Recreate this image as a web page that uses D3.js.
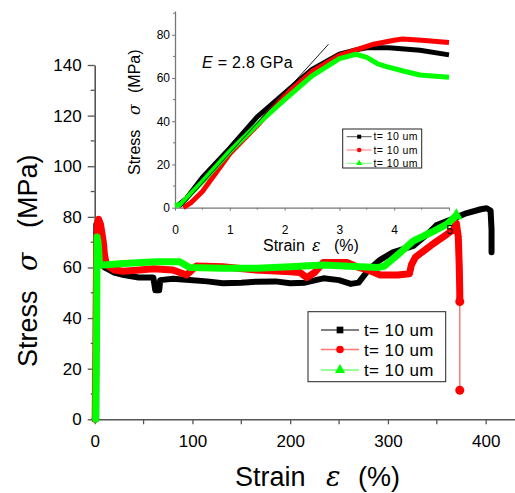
<!DOCTYPE html>
<html>
<head>
<meta charset="utf-8">
<script src="https://cdn.jsdelivr.net/npm/d3@7"></script>
<style>
body { margin: 0; background: #fff; }
svg text { font-family: "Liberation Sans", Arial, sans-serif; fill: #000; }
</style>
</head>
<body>
<div id="chart"></div>
<script>
// main test: stress (MPa) vs strain (%)
var blackMain = [[0,0],[1.5,0],[1.6,77],[2.5,76],[4,70],[6,62],[10,60],[20,58],[30,57],[45,56],[60,56],[62,51],[66,51],[67,55],[80,55.5],[97,55],[115,54.5],[131,53.8],[150,54],[165,54.4],[185,54.5],[200,53.8],[215,54],[234,55.7],[250,55],[262,53.5],[270,54],[280,59],[292,63],[305,66],[326,68.5],[340,73],[350,76.8],[365,79],[380,81.4],[395,83],[401,83.4],[405,82.5],[406,75],[406,66]];
var redMain = [[0.5,0],[1,20],[2,70],[3,78],[4,79],[6,77],[8.8,70],[10,65],[12,61],[20,59],[29,58.5],[46,59],[60,59.5],[80,59],[94,57],[104,60.6],[131,60.3],[165,59],[200,58.3],[210,58],[217,56],[225,58],[234,62],[258,62],[270,60],[280,59],[292,57],[310,57],[322,57.5],[324,61],[328,64],[345,69],[360,73],[367,75],[370,77.5],[372,72],[373,60],[373.5,50],[373.5,46.5]];
var redTail = [[373.5,46.5],[373.5,11.5]];
var greenMain = [[1,0],[2,40],[2.5,72],[3.5,70],[5,61],[9,61],[29,61.6],[63,62.3],[87,62.3],[97,60],[131,59.7],[166,59.7],[200,60.3],[234,61],[260,60.5],[290,60],[296,60.5],[310,65],[326,70.5],[345,74],[360,77],[370,80.5]];

// inset: first 5 % of strain
var blackInset = [[0.05,1],[0.2,4],[0.5,14],[1,27.5],[1.5,42],[2,53],[2.5,64],[3,71],[3.3,73],[3.5,74],[3.9,74],[4.47,72.8],[5,70.7]];
var redInset = [[0.15,0],[0.3,2.5],[0.5,7.5],[1,25],[1.5,38],[2,52],[2.5,63],[3,70.5],[3.3,73],[3.6,75.5],[4,77.5],[4.15,78],[4.5,77.5],[5,76.4]];
var greenInset = [[0,1],[0.1,1.5],[0.5,12],[1,26],[1.5,38.5],[2,50],[2.5,61],[3,69],[3.3,71],[3.5,69.5],[3.7,66.5],[3.86,65.3],[4.2,63],[4.47,61.4],[5,60.3]];
var modulusLine = [[0.1,0],[2.8,75.6]];

var seriesNames = ["t= 10 um", "t= 10 um", "t= 10 um"];
var seriesColors = ["#000000", "#ff0000", "#00ff00"];
var legendLineColors = ["#555555", "#ff7777", "#77ff77"];
var seriesSymbols = [d3.symbolSquare, d3.symbolCircle, d3.symbolTriangle];

var mainXTicks = [0, 100, 200, 300, 400];
var mainYTicks = [0, 20, 40, 60, 80, 100, 120, 140];
var insetXTicks = [0, 1, 2, 3, 4, 5];
var insetYTicks = [0, 20, 40, 60, 80];

var width = 515, height = 493;

var svg = d3.select("#chart").append("svg")
    .attr("width", width)
    .attr("height", height);

var x = d3.scaleLinear().domain([0, 430]).range([94.7, 515]);
var y = d3.scaleLinear().domain([0, 140]).range([419.3, 65]);

var xi = d3.scaleLinear().domain([0, 5]).range([175, 449]);
var yi = d3.scaleLinear().domain([0, 91]).range([207.7, 11]);

function drawAxes(g, xs, ys, xTicks, yTicks, xMinor, yMinor, opt) {
    var xAxis = d3.axisBottom(xs).tickValues(xTicks).tickFormat(d3.format("d"))
        .tickSize(opt.xmajor).tickSizeOuter(0).tickPadding(opt.xpad);
    var yAxis = d3.axisLeft(ys).tickValues(yTicks).tickFormat(d3.format("d"))
        .tickSize(opt.ymajor).tickSizeOuter(0).tickPadding(opt.ypad);
    var gx = g.append("g").attr("transform", "translate(0," + ys.range()[0] + ")").call(xAxis);
    var gy = g.append("g").attr("transform", "translate(" + xs.range()[0] + ",0)").call(yAxis);
    // minor ticks
    gx.selectAll(".minor").data(xMinor).enter().append("line")
        .attr("x1", xs).attr("x2", xs).attr("y1", 0).attr("y2", opt.xminor);
    gy.selectAll(".minor").data(yMinor).enter().append("line")
        .attr("y1", ys).attr("y2", ys).attr("x1", 0).attr("x2", -opt.yminor);
    [gx, gy].forEach(function (a) {
        a.selectAll("path, line").attr("stroke", opt.color).attr("stroke-width", opt.sw);
        a.selectAll("text").style("font-size", opt.font + "px").attr("fill", "#000");
        a.select(".domain").attr("stroke-width", opt.sw + 0.3);
    });
    return [gx, gy];
}

var line = function (xs, ys) {
    return d3.line().x(function (d) { return xs(d[0]); }).y(function (d) { return ys(d[1]); });
};

// axis title with separate pieces (word, greek letter, unit)
function axisTitle(parent, transform, parts, pos, size) {
    var t = parent.append("text")
        .attr("transform", transform)
        .style("font-size", size + "px");
    parts.forEach(function (p, i) {
        var s = t.append("tspan").attr("x", pos[i]).text(p);
        if (i == 1) s.style("font-family", "DejaVu Serif").style("font-style", "italic");
    });
    return t;
}

// ---- main plot ----
var mainG = svg.append("g");
drawAxes(mainG, x, y, mainXTicks, mainYTicks, [50, 150, 250, 350], [10, 30, 50, 70, 90, 110, 130],
    { xmajor: 5, xminor: 5, ymajor: 7, yminor: 4, xpad: 11, ypad: 6, font: 17, color: "#555", sw: 1.3 });

var mainData = [blackMain, redMain, greenMain];
var mainWidths = [6, 7, 7];
mainData.forEach(function (data, i) {
    mainG.append("path")
        .datum(data)
        .attr("d", line(x, y))
        .attr("fill", "none")
        .attr("stroke", seriesColors[i])
        .attr("stroke-width", mainWidths[i])
        .attr("stroke-linejoin", "round")
        .attr("stroke-linecap", "round");
});

mainG.append("path").datum(redTail)
    .attr("d", line(x, y))
    .attr("stroke", legendLineColors[1]).attr("stroke-width", 1.5).attr("fill", "none");
mainG.selectAll(".tail").data(redTail).enter().append("circle")
    .attr("cx", function (d) { return x(d[0]); })
    .attr("cy", function (d) { return y(d[1]); })
    .attr("r", 4.5).attr("fill", "#ff0000");

mainG.append("path")
    .attr("d", d3.symbol().type(d3.symbolTriangle).size(70)())
    .attr("transform", "translate(" + x(greenMain[greenMain.length - 1][0]) + "," + y(greenMain[greenMain.length - 1][1]) + ")")
    .attr("fill", "#00ff00");

axisTitle(svg, "translate(0,486)", ["Strain", "ε", "(%)"], [235, 326, 358], 27);
axisTitle(svg, "translate(37,0) rotate(-90)", ["Stress", "σ", "(MPa)"], [-367, -271, -228], 27);

// legends
function drawLegend(g, box, rows, sampleX, textX, size, font, markSize) {
    g.append("rect")
        .attr("x", box[0]).attr("y", box[1]).attr("width", box[2]).attr("height", box[3])
        .attr("fill", "#fff").attr("stroke", "#222").attr("stroke-width", 1);
    seriesNames.forEach(function (name, i) {
        g.append("line")
            .attr("x1", sampleX[0]).attr("x2", sampleX[1])
            .attr("y1", rows[i]).attr("y2", rows[i])
            .attr("stroke", legendLineColors[i]).attr("stroke-width", size);
        g.append("path")
            .attr("d", d3.symbol().type(seriesSymbols[i]).size(markSize)())
            .attr("transform", "translate(" + (sampleX[0] + sampleX[1]) / 2 + "," + rows[i] + ")")
            .attr("fill", seriesColors[i]);
        g.append("text")
            .attr("x", textX).attr("y", rows[i])
            .attr("dy", "0.36em")
            .style("font-size", font + "px")
            .style("letter-spacing", "0.4px")
            .text(name);
    });
}
drawLegend(svg.append("g"), [308, 311.7, 137.7, 70], [330, 349.5, 370], [321, 359], 364, 1.5, 17, 45);

// ---- inset ----
var insetG = svg.append("g");
drawAxes(insetG, xi, yi, insetXTicks, insetYTicks, [0.5, 1.5, 2.5, 3.5, 4.5], [10, 30, 50, 70, 90],
    { xmajor: 3, xminor: 2, ymajor: 3, yminor: 2, xpad: 15, ypad: 2, font: 12, color: "#777", sw: 1 });

var insetData = [blackInset, redInset, greenInset];
insetData.forEach(function (data, i) {
    insetG.append("path")
        .datum(data)
        .attr("d", line(xi, yi))
        .attr("fill", "none")
        .attr("stroke", seriesColors[i])
        .attr("stroke-width", 5)
        .attr("stroke-linejoin", "round");
});

insetG.append("path").datum(modulusLine)
    .attr("d", line(xi, yi))
    .attr("stroke", "#000").attr("stroke-width", 0.9).attr("fill", "none");

var et = svg.append("text").attr("x", 202).attr("y", 68).style("font-size", "16px").style("letter-spacing", "0.3px");
et.append("tspan").style("font-style", "italic").text("E");
et.append("tspan").text(" = 2.8 GPa");

axisTitle(svg, "translate(0,251)", ["Strain", "ε", "(%)"], [263, 312, 334], 16);
axisTitle(svg, "translate(140,0) rotate(-90)", ["Stress", "σ", "(MPa)"], [-175, -115, -93], 16);

drawLegend(svg.append("g"), [342.7, 129, 79, 39], [136.7, 150, 163.3], [346.7, 371.7], 373.5, 1, 10.5, 16);
</script>
</body>
</html>
